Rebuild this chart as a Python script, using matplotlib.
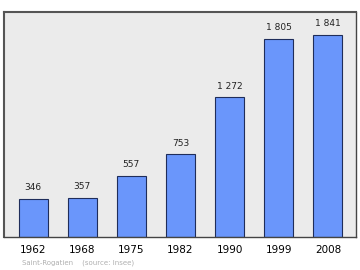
import matplotlib.pyplot as plt

years = ["1962", "1968", "1975", "1982", "1990", "1999", "2008"]
population = [346, 357, 557, 753, 1272, 1805, 1841]
labels = ["346", "357", "557", "753", "1 272", "1 805", "1 841"]

BAR = "#6a96fb"
EDGE = "#1f2d5a"
BG = "#ebebeb"

fig = plt.figure(figsize=(3.6, 2.7), dpi=100)
ax = fig.add_axes([4 / 360, 1 - 237 / 270, 352 / 360, 225 / 270])
ax.set_facecolor(BG)

x = range(len(years))
ax.bar(x, population, width=0.59, color=BAR, edgecolor=EDGE, linewidth=0.8)
for i, (v, t) in enumerate(zip(population, labels)):
    ax.text(i, v + 60, t, ha="center", va="bottom", fontsize=6.5, color="#222222")

ax.set_xlim(-0.59, 6.57)
ax.set_ylim(0, 2050)
ax.set_yticks([])
ax.set_xticks(list(x))
ax.set_xticklabels(years, fontsize=7.5)
ax.tick_params(axis="x", length=0, pad=6)
for side in ["left", "top"]:
    ax.spines[side].set_color("#555555")
    ax.spines[side].set_linewidth(1.5)
for side in ["right", "bottom"]:
    ax.spines[side].set_color("#444444")
    ax.spines[side].set_linewidth(1.0)

fig.text(22 / 360, 1 - 263 / 270, "Saint-Rogatien    (source: Insee)",
         fontsize=5, color="#b0b0b0", va="center")

fig.savefig("out.png", dpi=100)
